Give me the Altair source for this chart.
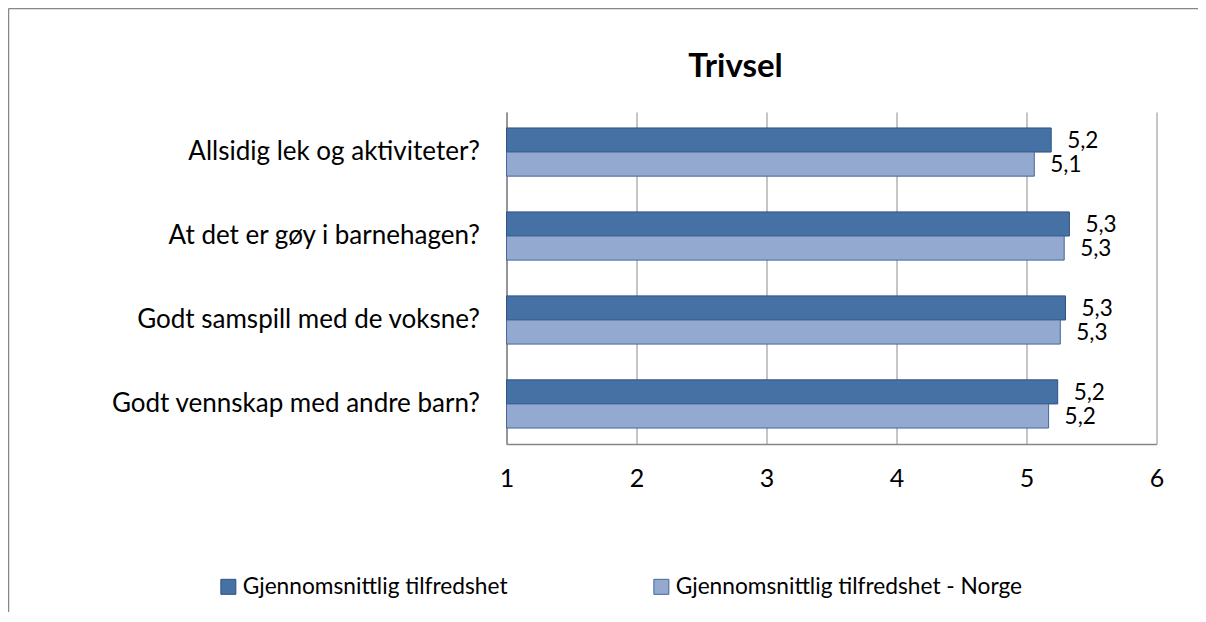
import altair as alt
import pandas as pd

categories = [
    "Allsidig lek og aktiviteter?",
    "At det er gøy i barnehagen?",
    "Godt samspill med de voksne?",
    "Godt vennskap med andre barn?",
]
series = ["Gjennomsnittlig tilfredshet", "Gjennomsnittlig tilfredshet - Norge"]
values_local = [5.19, 5.33, 5.30, 5.24]
values_norge = [5.06, 5.29, 5.26, 5.17]
x_ticks = [1, 2, 3, 4, 5, 6]
chart_title = "Trivsel"

fills = ["#4671A5", "#93A9D0"]
strokes = ["#2E5282", "#45679A"]

rows = []
for c, a, b in zip(categories, values_local, values_norge):
    rows.append({"category": c, "series": series[0], "value": a})
    rows.append({"category": c, "series": series[1], "value": b})
df = pd.DataFrame(rows)

FONT = "Lato"

y_enc = alt.Y(
    "category:N",
    sort=categories,
    title=None,
    scale=alt.Scale(paddingInner=0.426, paddingOuter=0.19),
    axis=alt.Axis(
        ticks=False,
        labelPadding=27,
        labelFontSize=26,
        labelFont=FONT,
        labelColor="#000000",
        labelLimit=600,
        domainColor="#868686",
        domainWidth=1.5,
        grid=False,
    ),
)
y_off = alt.YOffset("series:N", sort=series)

x_enc = alt.X(
    "value:Q",
    title=None,
    scale=alt.Scale(domain=[1, 6], zero=False, nice=False),
    axis=alt.Axis(
        values=x_ticks,
        ticks=False,
        labelFlush=False,
        labelPadding=22,
        labelFontSize=25,
        labelFont=FONT,
        labelColor="#000000",
        domainColor="#868686",
        domainWidth=1.5,
        grid=True,
        gridColor="#8C8C8C",
        gridWidth=1,
        format="d",
    ),
)

base = alt.Chart(df)

bars = base.mark_bar(strokeWidth=1).encode(
    y=y_enc,
    yOffset=y_off,
    x=x_enc,
    x2=alt.datum(1),
    fill=alt.Fill(
        "series:N",
        sort=series,
        scale=alt.Scale(domain=series, range=fills),
        legend=alt.Legend(
            title=None,
            orient="none",
            legendX=-289.5,
            legendY=463,
            direction="horizontal",
            symbolType="square",
            symbolSize=225,
            symbolStrokeColor="#3A5F90",
            symbolStrokeWidth=1,
            labelFont=FONT,
            labelFontSize=22.7,
            labelColor="#000000",
            labelOffset=3,
            labelLimit=600,
            columnPadding=142,
        ),
    ),
    stroke=alt.Stroke(
        "series:N",
        sort=series,
        scale=alt.Scale(domain=series, range=strokes),
        legend=None,
    ),
)

labels = base.transform_calculate(
    label="replace(format(datum.value, '.1f'), '.', ',')"
).mark_text(
    align="left", baseline="middle", dx=16, dy=1, font=FONT, fontSize=22.5, color="#000000"
).encode(
    y=alt.Y("category:N", sort=categories),
    yOffset=y_off,
    x=alt.X("value:Q"),
    text="label:N",
)

one = pd.DataFrame({"t": [chart_title]})
title_mark = alt.Chart(one).mark_text(
    font=FONT, fontSize=33, fontWeight="bold", color="#000000",
    align="center", baseline="alphabetic",
).encode(x=alt.value(229), y=alt.value(-35), text="t:N")

frame_top = alt.Chart(one).mark_rule(color="#878787", strokeWidth=1.5).encode(
    x=alt.value(-498), x2=alt.value(700), y=alt.value(-103.5)
)
frame_left = alt.Chart(one).mark_rule(color="#878787", strokeWidth=1.5).encode(
    x=alt.value(-498), y=alt.value(-103.5), y2=alt.value(600)
)

chart = alt.layer(bars, labels, title_mark, frame_top, frame_left).properties(
    width=650,
    height=332,
    autosize=alt.AutoSizeParams(type="none"),
    padding={"left": 498.5, "top": 104, "right": 41.5, "bottom": 168},
    background="#FFFFFF",
).configure_view(stroke=None)

chart.save("out.html", embed_options={"renderer": "svg", "actions": False})
